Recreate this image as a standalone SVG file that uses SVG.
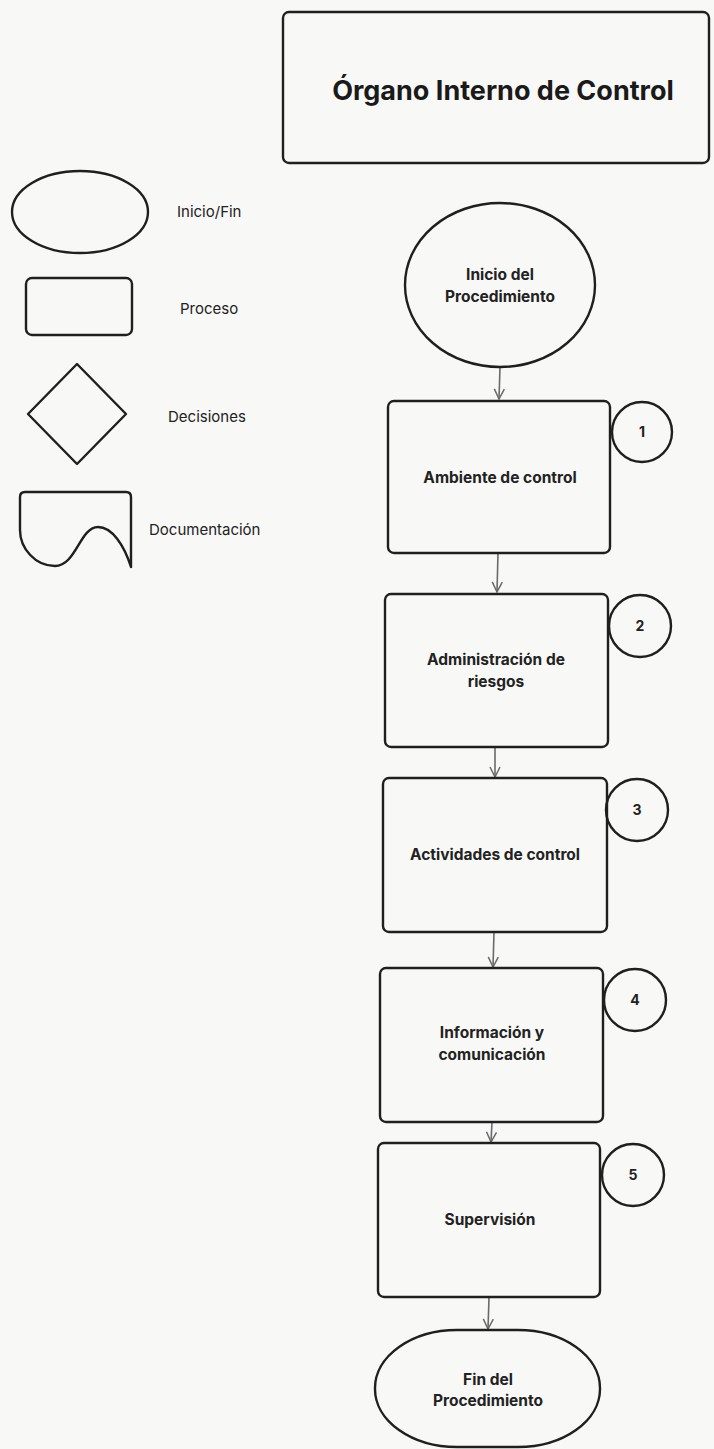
<svg xmlns="http://www.w3.org/2000/svg" width="714" height="1449" viewBox="0 0 714 1449">
  <defs>
    <style>
      .shape { fill: none; stroke: #1f1f1f; stroke-width: 2.4; }
      .conn { fill: none; stroke: #6a6a6a; stroke-width: 1.6; }
      .lbl { font-family: Inter, "Liberation Sans", sans-serif; font-weight: 700; font-size: 15.5px; fill: #222; text-anchor: middle; }
      .leg { font-family: Inter, "Liberation Sans", sans-serif; font-weight: 400; font-size: 15px; fill: #222; }
      .num { font-family: Inter, "Liberation Sans", sans-serif; font-weight: 700; font-size: 14px; fill: #222; text-anchor: middle; }
      .title { font-family: Inter, "Liberation Sans", sans-serif; font-weight: 700; font-size: 27px; fill: #1a1a1a; text-anchor: middle; }
    </style>
    <marker id="arrow" viewBox="0 0 12 12" refX="11" refY="6" markerWidth="12" markerHeight="12" markerUnits="userSpaceOnUse" orient="auto">
      <path d="M1,1 L11,6 L1,11" fill="none" stroke="#6a6a6a" stroke-width="1.5"/>
    </marker>
  </defs>

  <rect x="0" y="0" width="714" height="1449" fill="#f8f8f6"/>

  <!-- Title -->
  <g id="title">
    <rect class="shape" x="283" y="12" width="426" height="151" rx="6"/>
    <text class="title" x="503" y="100">Órgano Interno de Control</text>
  </g>

  <!-- Legend -->
  <g id="legend-inicio-fin">
    <ellipse class="shape" cx="80" cy="212" rx="68" ry="41"/>
    <text class="leg" x="177" y="217">Inicio/Fin</text>
  </g>
  <g id="legend-proceso">
    <rect class="shape" x="26" y="278" width="106" height="57" rx="6"/>
    <text class="leg" x="180" y="314">Proceso</text>
  </g>
  <g id="legend-decisiones">
    <path class="shape" d="M77,364 L126,414 L77,464 L28,414 Z" stroke-linejoin="round"/>
    <text class="leg" x="168" y="422">Decisiones</text>
  </g>
  <g id="legend-documentacion">
    <path class="shape" d="M25,492 L126,492 Q131,492 131,497 L131,567 C124,545 112,527 98,527 C80,527 76,566 55,566 C35,566 20,548 20,530 L20,497 Q20,492 25,492 Z" stroke-linejoin="round"/>
    <text class="leg" x="149" y="535">Documentación</text>
  </g>

  <!-- Connectors -->
  <g id="connectors">
    <line class="conn" x1="500" y1="367" x2="499" y2="399" marker-end="url(#arrow)"/>
    <line class="conn" x1="498" y1="553" x2="497" y2="592" marker-end="url(#arrow)"/>
    <line class="conn" x1="495" y1="747" x2="495" y2="777" marker-end="url(#arrow)"/>
    <line class="conn" x1="494" y1="932" x2="493" y2="967" marker-end="url(#arrow)"/>
    <line class="conn" x1="492" y1="1122" x2="491" y2="1142" marker-end="url(#arrow)"/>
    <line class="conn" x1="489" y1="1297" x2="488" y2="1329" marker-end="url(#arrow)"/>
  </g>

  <!-- Flow nodes -->
  <g id="inicio">
    <ellipse class="shape" cx="500" cy="285" rx="95" ry="82"/>
    <text class="lbl" x="500" y="280">Inicio del</text>
    <text class="lbl" x="500" y="302">Procedimiento</text>
  </g>

  <g id="ambiente">
    <rect class="shape" x="388" y="401" width="222" height="152" rx="6"/>
    <text class="lbl" x="500" y="483">Ambiente de control</text>
  </g>
  <g id="paso-1">
    <circle class="shape" cx="642" cy="432" r="30"/>
    <text class="num" x="642" y="437">1</text>
  </g>

  <g id="riesgos">
    <rect class="shape" x="385" y="594" width="223" height="153" rx="6"/>
    <text class="lbl" x="496" y="665">Administración de</text>
    <text class="lbl" x="496" y="687">riesgos</text>
  </g>
  <g id="paso-2">
    <circle class="shape" cx="640" cy="626" r="31"/>
    <text class="num" x="640" y="631">2</text>
  </g>

  <g id="actividades">
    <rect class="shape" x="383" y="778" width="224" height="154" rx="6"/>
    <text class="lbl" x="495" y="860">Actividades de control</text>
  </g>
  <g id="paso-3">
    <circle class="shape" cx="637" cy="810" r="31"/>
    <text class="num" x="637" y="815">3</text>
  </g>

  <g id="informacion">
    <rect class="shape" x="380" y="968" width="223" height="154" rx="6"/>
    <text class="lbl" x="492" y="1038">Información y</text>
    <text class="lbl" x="492" y="1060">comunicación</text>
  </g>
  <g id="paso-4">
    <circle class="shape" cx="635" cy="1000" r="31"/>
    <text class="num" x="635" y="1005">4</text>
  </g>

  <g id="supervision">
    <rect class="shape" x="378" y="1143" width="222" height="154" rx="6"/>
    <text class="lbl" x="490" y="1225">Supervisión</text>
  </g>
  <g id="paso-5">
    <circle class="shape" cx="633" cy="1175" r="31"/>
    <text class="num" x="633" y="1180">5</text>
  </g>

  <g id="fin">
    <rect class="shape" x="375" y="1330" width="225" height="117" rx="82" ry="58"/>
    <text class="lbl" x="488" y="1385">Fin del</text>
    <text class="lbl" x="488" y="1406">Procedimiento</text>
  </g>
</svg>
